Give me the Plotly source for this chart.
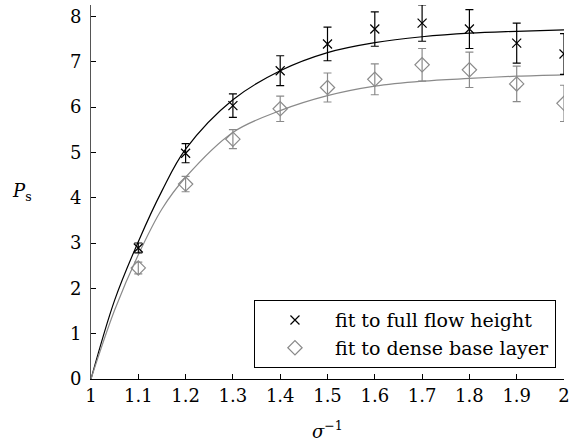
import plotly.graph_objects as go

# ---- data ----
sigma_inv = [1.1, 1.2, 1.3, 1.4, 1.5, 1.6, 1.7, 1.8, 1.9, 2.0]

full_ps = [2.89, 4.98, 6.03, 6.80, 7.39, 7.72, 7.85, 7.72, 7.41, 7.17]
full_err = [0.11, 0.21, 0.26, 0.33, 0.37, 0.38, 0.40, 0.43, 0.44, 0.45]

dense_ps = [2.45, 4.30, 5.29, 5.96, 6.43, 6.61, 6.93, 6.82, 6.51, 6.08]
dense_err = [0.13, 0.17, 0.21, 0.28, 0.32, 0.34, 0.36, 0.39, 0.39, 0.40]

fit_x = [1.0, 1.05, 1.1, 1.15, 1.2, 1.3, 1.4, 1.5, 1.6, 1.7, 1.8, 1.9, 2.0]
fit_full = [0.0, 1.74, 3.03, 4.15, 5.07, 6.16, 6.80, 7.20, 7.42, 7.55, 7.63, 7.67, 7.70]
fit_dense = [0.0, 1.52, 2.74, 3.75, 4.45, 5.44, 5.92, 6.25, 6.46, 6.57, 6.63, 6.68, 6.71]

x_ticks = [1, 1.1, 1.2, 1.3, 1.4, 1.5, 1.6, 1.7, 1.8, 1.9, 2]
y_ticks = [0, 1, 2, 3, 4, 5, 6, 7, 8]

BLACK = "#000000"
GRAY = "#8a8a8a"
FONT = "DejaVu Serif"

fig = go.Figure()

fig.add_trace(go.Scatter(x=fit_x, y=fit_full, mode="lines", line=dict(color=BLACK, width=1.2, shape="spline"),
                         showlegend=False, hoverinfo="skip"))
fig.add_trace(go.Scatter(x=fit_x, y=fit_dense, mode="lines", line=dict(color=GRAY, width=1.2, shape="spline"),
                         showlegend=False, hoverinfo="skip"))

fig.add_trace(go.Scatter(
    x=sigma_inv, y=full_ps, mode="markers", name="fit to full flow height",
    marker=dict(symbol="x-thin-open", size=9, color=BLACK, line=dict(color=BLACK, width=1.2)),
    error_y=dict(type="data", array=full_err, color=BLACK, thickness=1.2, width=4),
))
fig.add_trace(go.Scatter(
    x=sigma_inv, y=dense_ps, mode="markers", name="fit to dense base layer",
    marker=dict(symbol="diamond-open", size=11, color=GRAY, line=dict(color=GRAY, width=1.2)),
    error_y=dict(type="data", array=dense_err, color=GRAY, thickness=1.2, width=4),
))

fig.update_layout(
    width=570, height=443,
    margin=dict(l=91, r=0, t=5, b=64),
    paper_bgcolor="white", plot_bgcolor="white",
    font=dict(family=FONT, size=18, color=BLACK),
    showlegend=True,
    legend=dict(
        x=0.983, y=0.029, xanchor="right", yanchor="bottom",
        bgcolor="white", bordercolor=BLACK, borderwidth=1,
        font=dict(family=FONT, size=19, color=BLACK),
        tracegroupgap=0, itemwidth=70,
    ),
    xaxis=dict(
        range=[1, 2], tickvals=x_ticks, ticktext=[str(v) for v in x_ticks],
        ticks="inside", ticklen=5, tickcolor=BLACK, showgrid=False, zeroline=False,
        showline=True, linecolor=BLACK, linewidth=1, mirror=False,
        tickfont=dict(family=FONT, size=18), ticklabeloverflow="allow",
    ),
    yaxis=dict(
        range=[0, 8.25], tickvals=y_ticks, ticks="inside", ticklen=5, tickcolor=BLACK,
        showgrid=False, zeroline=False, showline=True, linecolor="#555555", linewidth=1,
        tickfont=dict(family=FONT, size=18), ticklabelstandoff=5,
    ),
)

plot_w = 570 - 91
plot_h = 443 - 5 - 64
fig.add_annotation(text="<i>P</i><sub>s</sub>", x=(21 - 91) / plot_w, y=(379 - 192) / plot_h,
                   xref="paper", yref="paper", showarrow=False, xanchor="center", yanchor="middle",
                   font=dict(family=FONT, size=18))
fig.add_annotation(text="<i>σ</i><sup>−1</sup>", x=0.5, y=(379 - 430) / plot_h,
                   xref="paper", yref="paper", showarrow=False, xanchor="center", yanchor="middle",
                   font=dict(family=FONT, size=18))

fig.write_html("out.html")
